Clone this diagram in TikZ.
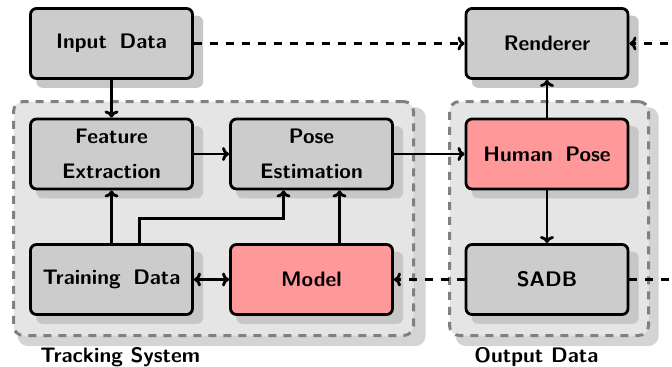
\documentclass[tikz,border=0pt]{standalone}
\usetikzlibrary{shadows,arrows.meta}
\begin{document}
\begin{tikzpicture}[x=0.5pt,y=-0.5pt,
  font=\sffamily\bfseries\fontsize{10.5}{12.6}\selectfont,
  boxshadow/.style={drop shadow={shadow xshift=4pt,shadow yshift=-4pt,shadow scale=1.03,fill=black!22,opacity=1}},
  block/.style={draw=black,line width=1.4pt,rounded corners=3pt,fill=black!20,
    minimum width=81pt,minimum height=35pt,align=center,inner sep=0pt,boxshadow,
    execute at begin node={\spaceskip=0.6em plus 0.1em}},
  hot/.style={block,fill=red!40},
  group/.style={draw=black!50,line width=1.5pt,dash pattern=on 4pt off 3.5pt,
    rounded corners=5pt,fill=black!10,
    drop shadow={shadow xshift=4pt,shadow yshift=-4pt,shadow scale=1.02,fill=black!17,opacity=1}},
  caption/.style={anchor=base west,inner sep=0pt},
  link/.style={line width=1.4pt,-{To[length=3.5pt,width=7pt]}},
  duplex/.style={line width=1.4pt,{To[length=3.5pt,width=7pt]}-{To[length=3.5pt,width=7pt]}},
  dlink/.style={link,dash pattern=on 4pt off 4pt},
  dplain/.style={line width=1.4pt,dash pattern=on 4pt off 4pt}]
\path[use as bounding box] (0,0) rectangle (672,366);
\clip (0,0) rectangle (672,366);

% subsystem frames
\node[group,minimum width=200pt,minimum height=117pt,inner sep=0pt] (track) at (213.5,218.5) {};
\node[group,minimum width=99.5pt,minimum height=117pt,inner sep=0pt] (outdata) at (549,218.5) {};
\node[caption] (tracklbl) at (40,362) {Tracking System};
\node[caption] (outlbl) at (474,362) {Output Data};

% blocks
\node[block] (input) at (111.5,43.5) {Input Data};
\node[block] (render) at (547,43.5) {Renderer};
\node[block] (feat) at (111.5,154) {Feature\\[5pt]Extraction};
\node[block] (pose) at (311.5,154) {Pose\\[5pt]Estimation};
\node[hot] (human) at (547,154) {Human Pose};
\node[block] (train) at (111.5,279.5) {Training Data};
\node[hot] (model) at (311.5,279.5) {Model};
\node[block] (sadb) at (547,279.5) {SADB};

% loop leaving to the right
\coordinate (farright) at (700,160);

% connections
\draw[link] (input) -- (feat);
\draw[link] (feat) -- (pose);
\draw[link] (pose) -- (human);
\draw[link] (human) -- (render);
\draw[link] (human) -- (sadb);
\draw[link] (train) -- (feat);
\draw[link] ([xshift=14pt]train.north) -- ++(0,-24.5) -| ([xshift=-14pt]pose.south);
\draw[link] ([xshift=14pt]model.north) -- ([xshift=14pt]pose.south);
\draw[duplex] (train) -- (model);
\draw[dlink] (input) -- (render);
\draw[dlink] (sadb) -- (model);
\draw[dplain] (sadb.east) -- (sadb.east -| farright) -- (render.east -| farright);
\draw[dlink] (render.east -| farright) -- (render.east);
\end{tikzpicture}
\end{document}
